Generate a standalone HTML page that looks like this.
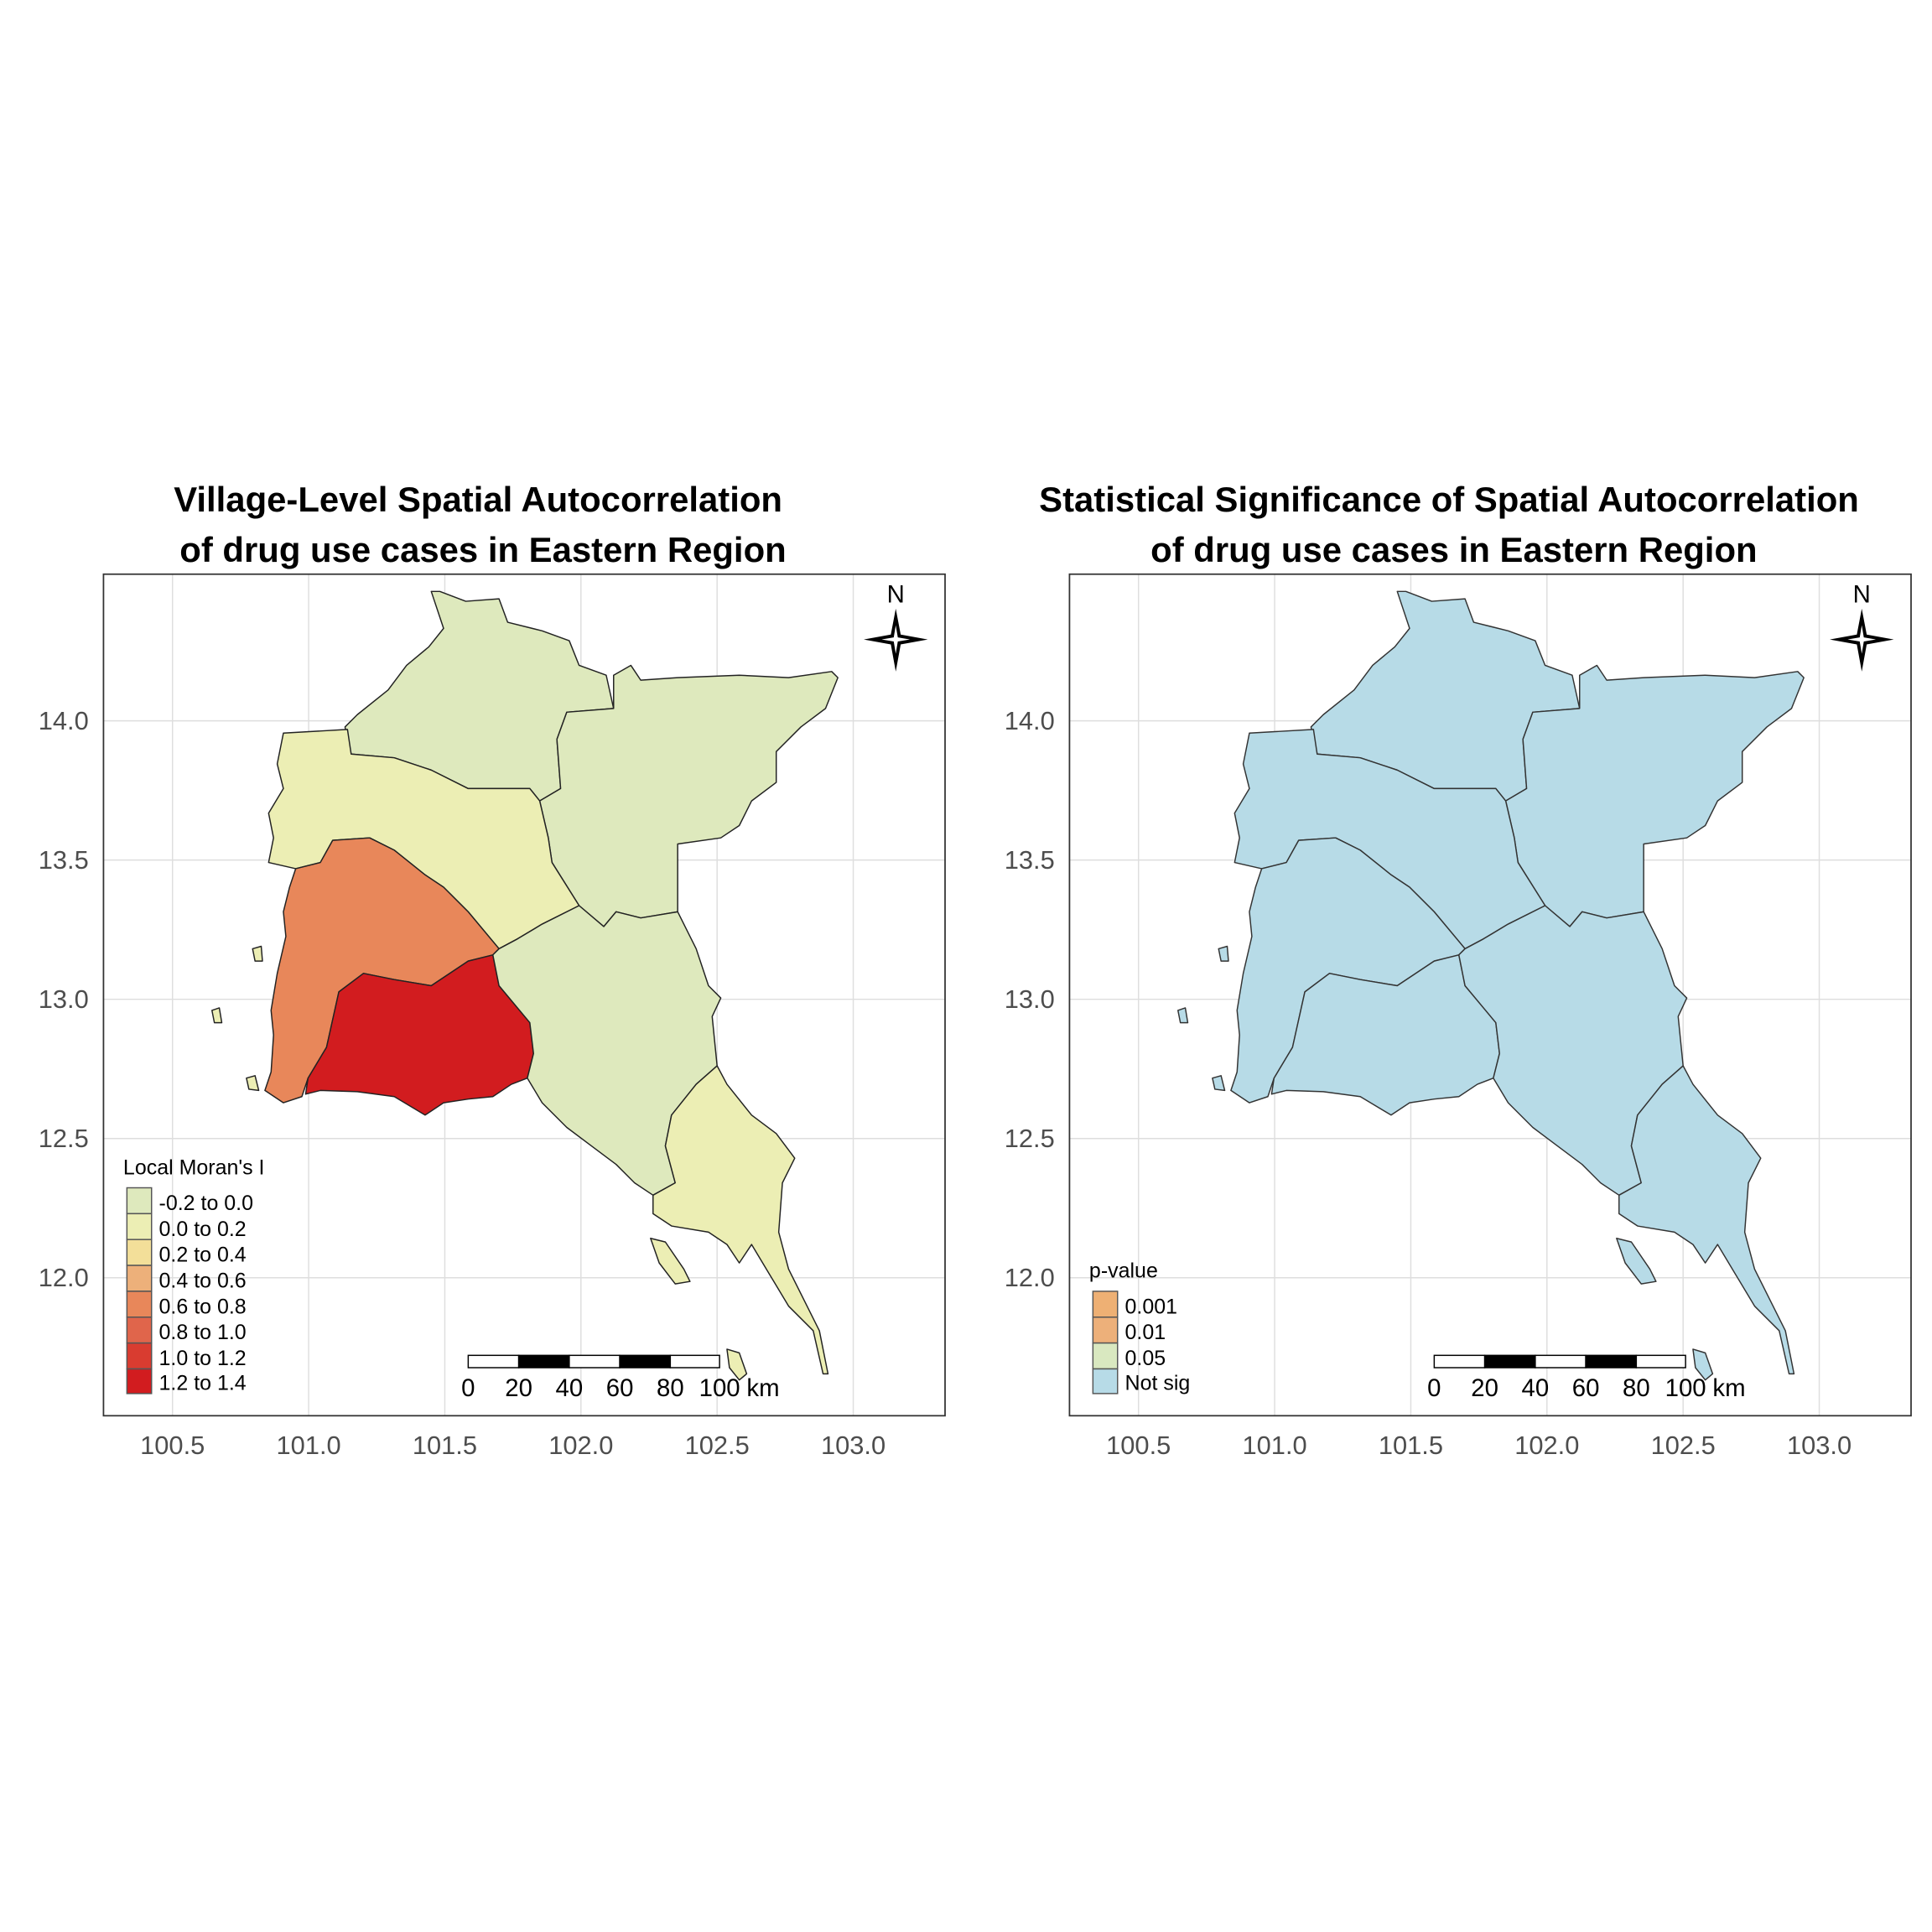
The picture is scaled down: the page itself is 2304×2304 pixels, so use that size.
<!DOCTYPE html>
<html><head><meta charset="utf-8"><style>
html,body{margin:0;padding:0;background:#fff}
svg{display:block}
text{font-family:"Liberation Sans",Arial,sans-serif}
</style></head><body>
<svg width="2304" height="2304" viewBox="0 0 1568 1568" xmlns="http://www.w3.org/2000/svg">
<defs>
<g id="grid">
 <rect x="84" y="466" width="683" height="683" fill="#fff"/>
 <g stroke="#dedede" stroke-width="1">
  <line x1="140" y1="466" x2="140" y2="1149"/><line x1="250.5" y1="466" x2="250.5" y2="1149"/>
  <line x1="361" y1="466" x2="361" y2="1149"/><line x1="471.5" y1="466" x2="471.5" y2="1149"/>
  <line x1="582" y1="466" x2="582" y2="1149"/><line x1="692.5" y1="466" x2="692.5" y2="1149"/>
  <line x1="84" y1="585" x2="767" y2="585"/><line x1="84" y1="698" x2="767" y2="698"/>
  <line x1="84" y1="811" x2="767" y2="811"/><line x1="84" y1="924" x2="767" y2="924"/>
  <line x1="84" y1="1037" x2="767" y2="1037"/>
 </g>
</g>
<g id="axes">
 <rect x="84" y="466" width="683" height="683" fill="none" stroke="#333" stroke-width="1.2"/>
 <g font-size="21" fill="#4d4d4d" text-anchor="middle">
  <text x="140" y="1180">100.5</text><text x="250.5" y="1180">101.0</text><text x="361" y="1180">101.5</text>
  <text x="471.5" y="1180">102.0</text><text x="582" y="1180">102.5</text><text x="692.5" y="1180">103.0</text>
 </g>
 <g font-size="21" fill="#4d4d4d" text-anchor="end">
  <text x="72" y="592">14.0</text><text x="72" y="705">13.5</text><text x="72" y="818">13.0</text>
  <text x="72" y="931">12.5</text><text x="72" y="1044">12.0</text>
 </g>
 <text x="727" y="489" font-size="20" text-anchor="middle">N</text>
 <polygon points="727,494 731,515 753,519 731,523 727,545 723,523 701,519 723,515" fill="#000"/>
 <polygon points="727,505 729,517 741,519 729,521 727,533 725,521 713,519 725,517" fill="#fff" stroke="#000" stroke-width="0.8"/>
 <g stroke="#000" stroke-width="1">
  <rect x="380" y="1100" width="41" height="10" fill="#fff"/><rect x="421" y="1100" width="41" height="10" fill="#000"/>
  <rect x="462" y="1100" width="41" height="10" fill="#fff"/><rect x="503" y="1100" width="41" height="10" fill="#000"/>
  <rect x="544" y="1100" width="40" height="10" fill="#fff"/>
 </g>
 <g font-size="20" text-anchor="middle">
  <text x="380" y="1133">0</text><text x="421" y="1133">20</text><text x="462" y="1133">40</text>
  <text x="503" y="1133">60</text><text x="544" y="1133">80</text><text x="584" y="1133">100</text>
 </g>
 <text x="606" y="1133" font-size="20">km</text>
</g>
<path id="rA" d="M350,480 L357,480 378,488 405,486 412,505 440,512 462,520 470,540 492,548 498,575 460,578 452,600 455,640 438,650 430,640 410,640 380,640 350,625 320,615 285,612 280,590 290,580 315,560 330,540 348,525 360,510 Z"/>
<path id="rB" d="M498,575 L498,548 512,540 520,552 550,550 600,548 640,550 675,545 680,550 670,575 650,590 630,610 630,635 610,650 600,670 585,680 550,685 550,740 520,745 500,740 490,752 470,735 448,700 445,680 438,650 455,640 452,600 460,578 Z"/>
<path id="rC" d="M230,595 L282,592 285,612 320,615 350,625 380,640 410,640 430,640 438,650 445,680 448,700 470,735 440,750 420,762 405,770 380,740 360,720 345,710 320,690 300,680 270,682 260,700 240,705 218,700 222,680 218,660 230,640 225,620 Z"/>
<path id="rD" d="M240,705 L260,700 270,682 300,680 320,690 345,710 360,720 380,740 405,770 400,775 380,780 350,800 320,795 295,790 275,805 265,850 250,875 245,890 230,895 215,885 220,870 222,840 220,820 225,790 232,760 230,740 235,720 Z"/>
<path id="rE" d="M275,805 L295,790 320,795 350,800 380,780 400,775 405,800 420,818 430,830 433,855 428,875 415,880 400,890 380,892 360,895 345,905 320,890 290,886 260,885 248,888 250,875 265,850 Z"/>
<path id="rF" d="M405,770 L420,762 440,750 470,735 490,752 500,740 520,745 550,740 565,770 575,800 585,810 578,825 582,865 565,880 545,905 540,930 548,960 530,970 515,960 500,945 480,930 460,915 440,895 428,875 433,855 430,830 420,818 405,800 400,775 Z"/>
<path id="rG" d="M565,880 L582,865 590,880 610,905 630,920 645,940 635,960 632,1000 640,1030 655,1060 665,1080 672,1115 668,1115 660,1080 640,1060 625,1035 610,1010 600,1025 590,1010 575,1000 545,995 530,985 530,970 548,960 540,930 545,905 Z"/>
<path id="rI" d="M528,1005 L540,1008 555,1030 560,1040 548,1042 535,1025 Z M590,1095 L600,1098 606,1115 600,1120 592,1110 Z M200,875 L207,873 210,885 202,884 Z M172,820 L178,818 180,830 174,830 Z M205,770 L212,768 213,780 207,780 Z"/>
</defs>

<!-- LEFT PANEL -->
<use href="#grid"/>
<g stroke="#222" stroke-width="1" stroke-linejoin="round">
 <use href="#rA" fill="#dee9bd"/><use href="#rB" fill="#dee9bd"/><use href="#rC" fill="#eceeb4"/>
 <use href="#rD" fill="#e8875a"/><use href="#rE" fill="#d21c1f"/><use href="#rF" fill="#dee9bd"/>
 <use href="#rG" fill="#eceeb4"/><use href="#rI" fill="#eceeb4"/>
</g>
<use href="#axes"/>
<text x="100" y="953" font-size="17">Local Moran's I</text>
<g stroke="#555" stroke-width="1">
 <rect x="103" y="964" width="20" height="21" fill="#dee9bd"/><rect x="103" y="985" width="20" height="21" fill="#eceeb4"/>
 <rect x="103" y="1006" width="20" height="21" fill="#f3df99"/><rect x="103" y="1027" width="20" height="21" fill="#edb07a"/>
 <rect x="103" y="1048" width="20" height="21" fill="#e8875a"/><rect x="103" y="1069" width="20" height="21" fill="#e0654b"/>
 <rect x="103" y="1090" width="20" height="21" fill="#d93c30"/><rect x="103" y="1111" width="20" height="20" fill="#d21c1f"/>
</g>
<g font-size="17">
 <text x="129" y="982">-0.2 to 0.0</text><text x="129" y="1003">0.0 to 0.2</text><text x="129" y="1024">0.2 to 0.4</text>
 <text x="129" y="1045">0.4 to 0.6</text><text x="129" y="1066">0.6 to 0.8</text><text x="129" y="1087">0.8 to 1.0</text>
 <text x="129" y="1108">1.0 to 1.2</text><text x="129" y="1128">1.2 to 1.4</text>
</g>
<g font-size="28.5" font-weight="bold" text-anchor="middle">
 <text x="388" y="415">Village-Level Spatial Autocorrelation</text>
 <text x="392" y="456">of drug use cases in Eastern Region</text>
</g>

<!-- RIGHT PANEL -->
<g transform="translate(784,0)">
 <use href="#grid"/>
 <g stroke="#333" stroke-width="1" stroke-linejoin="round" fill="#b7dbe7">
  <use href="#rA"/><use href="#rB"/><use href="#rC"/><use href="#rD"/><use href="#rE"/><use href="#rF"/><use href="#rG"/><use href="#rI"/>
 </g>
 <use href="#axes"/>
 <text x="100" y="1037" font-size="17">p-value</text>
 <g stroke="#555" stroke-width="1">
  <rect x="103" y="1048" width="20" height="21" fill="#eeb074"/><rect x="103" y="1069" width="20" height="21" fill="#edb07a"/>
  <rect x="103" y="1090" width="20" height="21" fill="#d9e8c0"/><rect x="103" y="1111" width="20" height="20" fill="#b7dbe7"/>
 </g>
 <g font-size="17">
  <text x="129" y="1066">0.001</text><text x="129" y="1087">0.01</text><text x="129" y="1108">0.05</text><text x="129" y="1128">Not sig</text>
 </g>
 <g font-size="28.5" font-weight="bold" text-anchor="middle">
  <text x="392" y="415">Statistical Significance of Spatial Autocorrelation</text>
  <text x="396" y="456">of drug use cases in Eastern Region</text>
 </g>
</g>
</svg>
</body></html>
